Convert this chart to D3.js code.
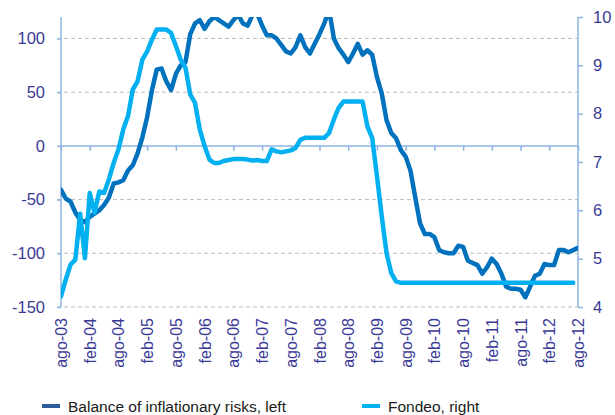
<!DOCTYPE html>
<html>
<head>
<meta charset="utf-8">
<script src="https://cdn.jsdelivr.net/npm/d3@7"></script>
<style>
  body { margin: 0; background: #fff; }
  text { font-family: "Liberation Sans", Arial, sans-serif; }
</style>
</head>
<body>
<script>
var width = 615,
    height = 415;

// monthly, ago-03 .. ago-12 (109 months)
var tickLabels = ["ago-03", "feb-04", "ago-04", "feb-05", "ago-05", "feb-06", "ago-06",
  "feb-07", "ago-07", "feb-08", "ago-08", "feb-09", "ago-09", "feb-10", "ago-10",
  "feb-11", "ago-11", "feb-12", "ago-12"];

// Balance of inflationary risks (left axis)
var balance = [-41, -49, -52, -62, -69, -71, -66, -63, -60, -55, -48, -35, -34, -32, -23, -18,
  -7, 8, 27, 52, 71, 72, 60, 52, 67, 75, 78, 104, 114, 117, 109, 116, 120, 117, 114, 111,
  117, 122, 114, 112, 122, 123, 112, 103, 103, 100, 94, 88, 86, 92, 103, 92, 86, 95, 104,
  114, 127, 100, 91, 85, 78, 86, 95, 85, 89, 85, 64, 49, 24, 12, 7, -4, -10, -23, -48, -72,
  -82, -82, -85, -97, -99, -100, -100, -93, -94, -107, -109, -111, -119, -113, -105, -110,
  -119, -131, -133, -133, -134, -141, -131, -121, -119, -110, -111, -111, -97, -97, -99,
  -97, -95];

// Fondeo rate (right axis), last month not published
var fondeo = [4.22, 4.57, 4.88, 4.98, 5.93, 5.01, 6.36, 5.95, 6.39, 6.36, 6.64, 6.98, 7.26,
  7.67, 7.95, 8.50, 8.67, 9.12, 9.29, 9.53, 9.74, 9.74, 9.74, 9.67, 9.40, 9.12, 8.95, 8.40,
  8.22, 7.67, 7.33, 7.05, 6.98, 6.98, 7.02, 7.04, 7.06, 7.06, 7.06, 7.05, 7.03, 7.04, 7.02,
  7.02, 7.26, 7.22, 7.20, 7.22, 7.24, 7.29, 7.46, 7.50, 7.50, 7.50, 7.50, 7.50, 7.60, 7.88,
  8.12, 8.25, 8.25, 8.25, 8.25, 8.25, 7.74, 7.50, 6.71, 5.88, 5.12, 4.70, 4.53,
  4.5, 4.5, 4.5, 4.5, 4.5, 4.5, 4.5, 4.5, 4.5, 4.5, 4.5, 4.5, 4.5, 4.5, 4.5, 4.5, 4.5, 4.5,
  4.5, 4.5, 4.5, 4.5, 4.5, 4.5, 4.5, 4.5, 4.5, 4.5, 4.5, 4.5, 4.5, 4.5, 4.5, 4.5, 4.5, 4.5,
  4.5, null];

var leftTicks = [-150, -100, -50, 0, 50, 100];
var rightTicks = [4, 5, 6, 7, 8, 9, 10];

var seriesNames = ["Balance of inflationary risks, left", "Fondeo, right"];
var darkBlue = "#0071bd",
    lightBlue = "#00b0f0",
    axisBlue = "#8db4e2",
    tickText = "#3a3a96";

var x0 = 61, x1 = 578, yTop = 17, yBot = 307;

var x = d3.scaleLinear().domain([0, balance.length - 1]).range([x0, x1]);
var yL = d3.scaleLinear().domain([-150, 120]).range([yBot, yTop]);
var yR = d3.scaleLinear().domain([4, 10]).range([yBot, yTop]);

var svg = d3.select("body").append("svg")
    .attr("width", width)
    .attr("height", height);

svg.append("defs").append("clipPath").attr("id", "plot")
  .append("rect").attr("x", x0).attr("y", yTop).attr("width", x1 - x0).attr("height", yBot - yTop);

// gridlines (dashed, except zero line which is the category axis)
svg.append("g").selectAll("line")
    .data(leftTicks.filter(d => d !== 0))
  .enter().append("line")
    .attr("x1", x0 - 4).attr("x2", x1)
    .attr("y1", d => yL(d)).attr("y2", d => yL(d))
    .attr("stroke", "#bdbdbd")
    .attr("stroke-width", 1)
    .attr("stroke-dasharray", "4,3");

// left axis
var gL = svg.append("g").attr("transform", "translate(" + x0 + ",0)")
    .call(d3.axisLeft(yL).tickValues(leftTicks).tickSize(4).tickPadding(12)
      .tickFormat(d => String(d)));
gL.select(".domain").attr("d", "M0," + yTop + "V" + yBot);

// right axis
var gR = svg.append("g").attr("transform", "translate(" + x1 + ",0)")
    .call(d3.axisRight(yR).tickValues(rightTicks).tickSize(5).tickPadding(10)
      .tickFormat(d => String(d)));
gR.select(".domain").attr("d", "M0," + yTop + "V" + yBot);

[gL, gR].forEach(function(g) {
  g.selectAll(".domain, line").attr("stroke", axisBlue).attr("stroke-width", 1.5);
  g.selectAll("text").attr("fill", tickText).style("font-size", "16.5px");
});

// category axis on zero line
var tickIdx = tickLabels.map((d, i) => i * 6);
var gX = svg.append("g").attr("transform", "translate(0," + yL(0) + ")")
    .call(d3.axisBottom(x).tickValues(tickIdx).tickSize(5).tickFormat(""));
gX.select(".domain").attr("d", "M" + x0 + ",0H" + x1);
gX.selectAll(".domain, line").attr("stroke", axisBlue).attr("stroke-width", 1.5);

// rotated category labels below the plot
svg.append("g").selectAll("text")
    .data(tickLabels)
  .enter().append("text")
    .attr("transform", (d, i) => "translate(" + (x(i * 6) + 6) + "," + (yBot + 11) + ") rotate(-90)")
    .attr("text-anchor", "end")
    .attr("fill", tickText)
    .style("font-size", "16px")
    .text(d => d);

// series
var line = d3.line()
    .defined(d => d[1] != null)
    .x(d => x(d[0]));

var plot = svg.append("g").attr("clip-path", "url(#plot)");

plot.append("path")
    .datum(balance.map((v, i) => [i, v]))
    .attr("fill", "none")
    .attr("stroke", darkBlue)
    .attr("stroke-width", 4.5)
    .attr("stroke-linejoin", "round")
    .attr("stroke-linecap", "round")
    .attr("d", line.y(d => yL(d[1])));

plot.append("path")
    .datum(fondeo.map((v, i) => [i, v]))
    .attr("fill", "none")
    .attr("stroke", lightBlue)
    .attr("stroke-width", 4.5)
    .attr("stroke-linejoin", "round")
    .attr("stroke-linecap", "round")
    .attr("d", line.y(d => yR(d[1])));

// legend
var legend = svg.append("g").selectAll("g")
    .data(seriesNames)
  .enter().append("g")
    .attr("transform", (d, i) => "translate(" + (i ? 362 : 42) + ",406)");

legend.append("line")
    .attr("x1", 0).attr("x2", 18)
    .attr("stroke", (d, i) => i ? lightBlue : "#2f5d9c")
    .attr("stroke-width", 4);

legend.append("text")
    .attr("x", 26).attr("y", 5.5)
    .attr("fill", "#1a1a1a")
    .style("font-size", "15.5px")
    .text(d => d);
</script>
</body>
</html>
